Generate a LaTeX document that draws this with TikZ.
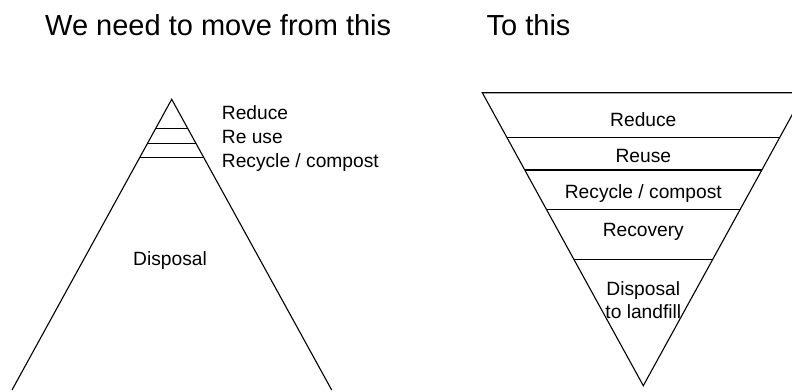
\documentclass[tikz,border=0pt]{standalone}
\usepackage{fontspec}
\setmainfont{Liberation Sans}
\tikzset{
  shape line/.style={line width=1.1pt, line join=miter},
  body/.style={inner sep=0pt, font=\fontsize{19.2}{23}\selectfont},
  title/.style={inner sep=0pt, font=\fontsize{29}{34}\selectfont},
}
\begin{document}
\begin{tikzpicture}[x=1pt,y=-1pt]
\useasboundingbox (0,0) rectangle (792,391);
\clip (0,0) rectangle (792,391);
% titles
\node[title, anchor=base west] (t1) at (45,35) {We need to move from this};
\node[title, anchor=base west] (t2) at (486.5,35) {To this};
% left pyramid
\coordinate (LA) at (171.7,99.3);
\coordinate (LL) at (12,390);
\coordinate (LR) at (331.7,390);
\draw[shape line] (LL) -- (LA) -- (LR);
\foreach \y in {128.3,143.3,157.7}{
  \pgfmathsetmacro{\hw}{(\y-99.3)*0.5499}
  \draw[shape line] (171.7-\hw,\y) -- (171.7+\hw,\y);
}
\node[body, anchor=base west] (l1) at (221.7,119) {Reduce};
\node[body, anchor=base west] (l2) at (221.7,143) {Re use};
\node[body, anchor=base west] (l3) at (221.7,167) {Recycle / compost};
\node[body, anchor=base] (l4) at (170,265) {Disposal};
% right inverted pyramid
\coordinate (RA) at (643.3,385.7);
\coordinate (RL) at (482.3,92.7);
\coordinate (RR) at (804.3,92.7);
\draw[shape line] (RL) -- (RR) -- (RA) -- cycle;
\foreach \y in {137.7,170,209.3,259.3}{
  \pgfmathsetmacro{\hw}{(385.7-\y)*0.5495}
  \draw[shape line] (643.3-\hw,\y) -- (643.3+\hw,\y);
}
\node[body, anchor=base] (r1) at (643.3,126.7) {Reduce};
\node[body, anchor=base] (r2) at (643.3,162.7) {Reuse};
\node[body, anchor=base] (r3) at (643.3,198.3) {Recycle / compost};
\node[body, anchor=base] (r4) at (643.3,236.7) {Recovery};
\node[body, anchor=base] (r5) at (643.3,295) {Disposal};
\node[body, anchor=base] (r6) at (643.3,318.3) {to landfill};
\end{tikzpicture}
\end{document}
